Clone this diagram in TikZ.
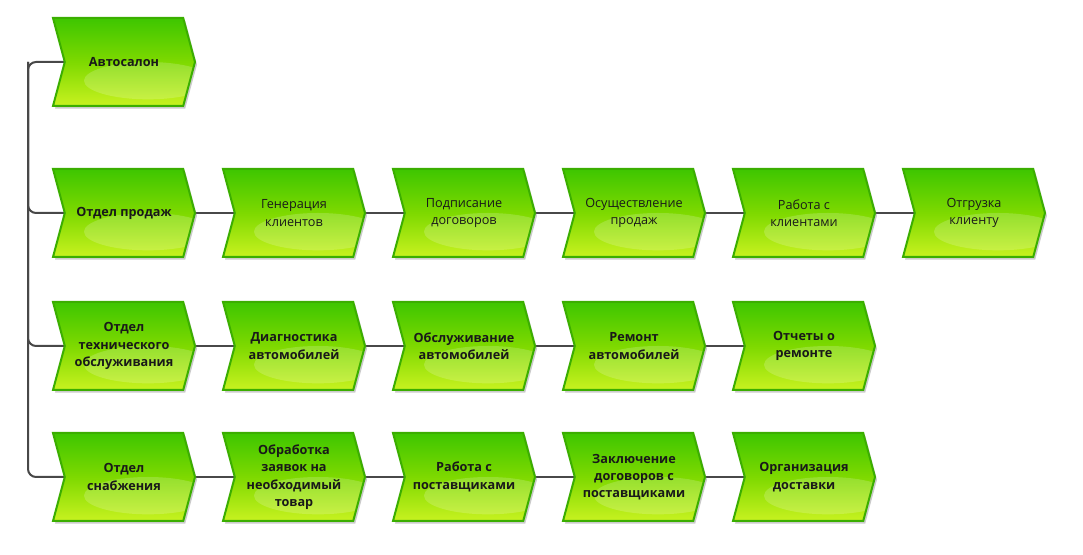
\documentclass[tikz,border=0pt]{standalone}
\usepackage{fontspec}
\setmainfont{Open Sans}
\usepackage{tikz}
\usetikzlibrary{shapes.symbols,shadows,backgrounds,calc}

\definecolor{evtop}{HTML}{3EC600}
\definecolor{evmid}{HTML}{7ED900}
\definecolor{evbot}{HTML}{C8F220}
\definecolor{evrim}{HTML}{3BAE00}
\definecolor{linkgray}{HTML}{484848}

\tikzset{
  func/.style={signal, signal from=west, signal to=east, signal pointer angle=150,
    minimum width=106.5pt, minimum height=66pt, inner sep=0pt, align=center,
    top color=evtop, bottom color=evbot, middle color=evmid,
    draw=evrim, line width=1.5pt,
    drop shadow={shadow xshift=1.5pt, shadow yshift=-2pt, fill=black!45, opacity=.45},
    path picture={\fill[white,opacity=.18] ([xshift=18pt,yshift=-14pt]path picture bounding box.center)
      ellipse [x radius=48pt, y radius=14pt];},
    text=black!90, font=\fontsize{9.5}{13}\selectfont},
  funcb/.style={func, font=\fontsize{9.5}{13}\selectfont\bfseries},
  link/.style={draw=linkgray, line width=1.5pt, rounded corners=6pt}
}

\begin{document}
\begin{tikzpicture}[x=0.75pt,y=-0.75pt]
\useasboundingbox (0,0) rectangle (1083,555);

% head
\node[funcb] (auto) at (124,62) {Автосалон};

% sales
\node[funcb] (prod) at (124,213) {Отдел продаж};
\node[func] (gen) at (294,213) {Генерация\\клиентов};
\node[func] (podp) at (464,213) {Подписание\\договоров};
\node[func] (osush) at (634,213) {Осуществление\\продаж};
\node[func] (rabkl) at (804,213) {Работа с\\клиентами};
\node[func] (otgr) at (974,213) {Отгрузка\\клиенту};

% service
\node[funcb] (tech) at (124,346) {Отдел\\технического\\обслуживания};
\node[funcb] (diag) at (294,346) {Диагностика\\автомобилей};
\node[funcb] (obsl) at (464,346) {Обслуживание\\автомобилей};
\node[funcb] (remont) at (634,346) {Ремонт\\автомобилей};
\node[funcb] (otch) at (804,346) {Отчеты о\\ремонте};

% supply
\node[funcb] (snab) at (124,477) {Отдел\\снабжения};
\node[funcb] (obr) at (294,477) {Обработка\\заявок на\\необходимый\\товар};
\node[funcb] (post) at (464,477) {Работа с\\поставщиками};
\node[funcb] (zakl) at (634,477) {Заключение\\договоров с\\поставщиками};
\node[funcb] (org) at (804,477) {Организация\\доставки};

\coordinate (trunk) at (28,62);

\begin{scope}[on background layer]
\draw[link] (auto.west) -- (trunk) |- (snab.west);
\draw[link] (trunk) |- (prod.west);
\draw[link] (trunk) |- (tech.west);

\draw[link] (prod.east) -- (gen.west);
\draw[link] (gen.east) -- (podp.west);
\draw[link] (podp.east) -- (osush.west);
\draw[link] (osush.east) -- (rabkl.west);
\draw[link] (rabkl.east) -- (otgr.west);

\draw[link] (tech.east) -- (diag.west);
\draw[link] (diag.east) -- (obsl.west);
\draw[link] (obsl.east) -- (remont.west);
\draw[link] (remont.east) -- (otch.west);

\draw[link] (snab.east) -- (obr.west);
\draw[link] (obr.east) -- (post.west);
\draw[link] (post.east) -- (zakl.west);
\draw[link] (zakl.east) -- (org.west);
\end{scope}
\end{tikzpicture}
\end{document}
